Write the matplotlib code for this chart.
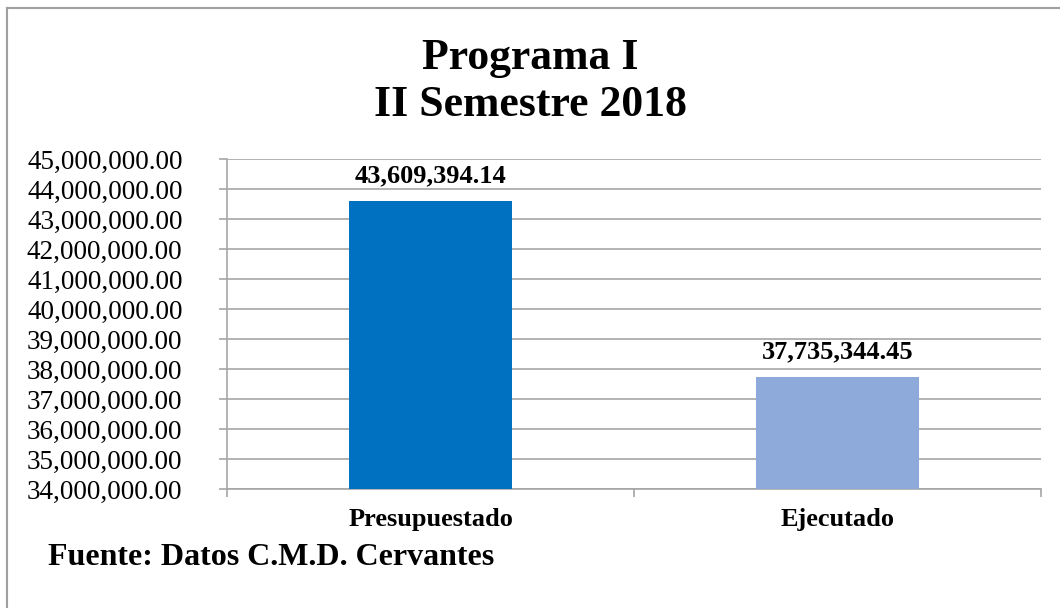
import numpy as np
import matplotlib.pyplot as plt
from matplotlib.lines import Line2D
from matplotlib.ticker import FuncFormatter, FixedLocator

plt.rcParams['font.family'] = ['Liberation Serif', 'DejaVu Serif']

# Data
categories = ["Presupuestado", "Ejecutado"]
values = [43609394.14, 37735344.45]
colors = ["#0070C0", "#8EAADB"]
title = "Programa I\nII Semestre 2018"
source = "Fuente: Datos C.M.D. Cervantes"

fig = plt.figure(figsize=(10.6, 6.08), dpi=100)
ax = fig.add_axes([0.2142, 0.1957, 0.7679, 0.5428])

x = np.arange(len(categories))
ax.bar(x, values, width=0.40, color=colors, zorder=3)

for xi, v in zip(x, values):
    ax.text(xi, v + 620000, f"{v:,.2f}", ha='center', va='baseline',
            fontsize=19, fontweight='bold')

ax.set_xlim(-0.5, 1.5)
ax.set_ylim(34000000, 45000000)
ax.set_yticks(np.arange(34000000, 45000001, 1000000))
ax.yaxis.set_major_formatter(FuncFormatter(lambda v, p: f"{v:,.2f}"))
ax.grid(axis='y', color='#A6A6A6', linewidth=1.2, zorder=0)

ax.set_xticks(x)
ax.set_xticklabels(categories, fontsize=19, fontweight='bold')
ax.xaxis.set_minor_locator(FixedLocator([-0.5, 0.5, 1.5]))
ax.tick_params(axis='x', which='major', length=0, pad=14)
ax.tick_params(axis='x', which='minor', length=6, color='#A6A6A6', width=1.2)
ax.tick_params(axis='y', length=6, color='#A6A6A6', width=1.2, labelsize=19.5, pad=26)

for s in ['top', 'right']:
    ax.spines[s].set_visible(False)
ax.spines['left'].set_color('#A6A6A6')
ax.spines['bottom'].set_color('#A6A6A6')
ax.spines['left'].set_linewidth(1.2)
ax.spines['bottom'].set_linewidth(1.2)

fig.text(0.5, 0.866, title, ha='center', va='center', fontsize=31.5,
         fontweight='bold', linespacing=1.22)
fig.text(0.045, 0.0707, source, ha='left', va='baseline', fontsize=23,
         fontweight='bold')

# outer border (only left and top visible)
fig.add_artist(Line2D([0.0066, 0.0066], [0.0, 0.987], transform=fig.transFigure,
                      color='#A0A0A0', linewidth=1.5))
fig.add_artist(Line2D([0.0066, 1.0], [0.987, 0.987], transform=fig.transFigure,
                      color='#A0A0A0', linewidth=1.5))

fig.savefig("out.png", dpi=100)
